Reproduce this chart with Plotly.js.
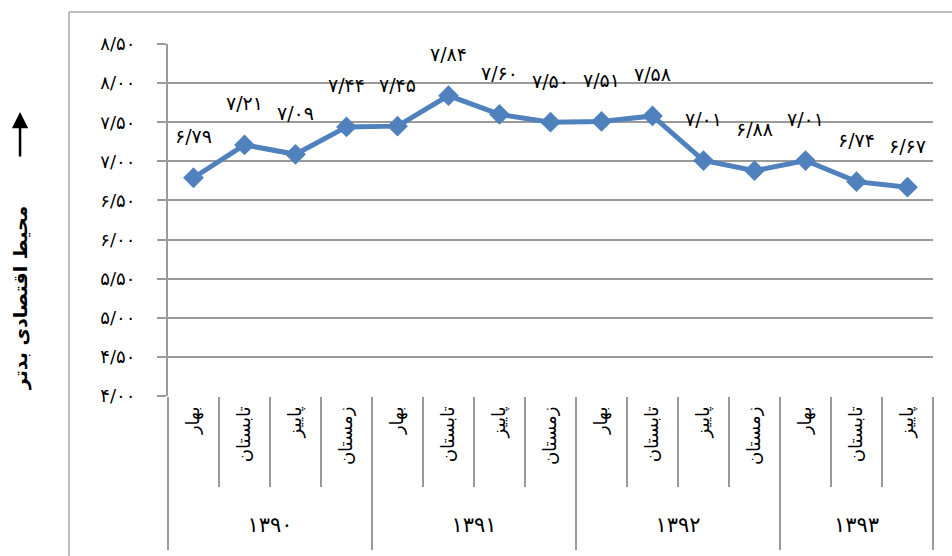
<!DOCTYPE html>
<html>
<head>
<meta charset="utf-8">
<script src="https://cdn.plot.ly/plotly-3.0.1.min.js"></script>
<style>html,body{margin:0;padding:0;background:#fff;}#chart{width:952px;height:556px;}</style>
</head>
<body>
<div id="chart"></div>
<script>
var years = ['۱۳۹۰','۱۳۹۰','۱۳۹۰','۱۳۹۰','۱۳۹۱','۱۳۹۱','۱۳۹۱','۱۳۹۱','۱۳۹۲','۱۳۹۲','۱۳۹۲','۱۳۹۲','۱۳۹۳','۱۳۹۳','۱۳۹۳'];
var seasons = ['بهار','تابستان','پاییز','زمستان','بهار','تابستان','پاییز','زمستان','بهار','تابستان','پاییز','زمستان','بهار','تابستان','پاییز'];
var values = [6.79, 7.21, 7.09, 7.44, 7.45, 7.84, 7.60, 7.50, 7.51, 7.58, 7.01, 6.88, 7.01, 6.74, 6.67];
var yTickVals = [4.0, 4.5, 5.0, 5.5, 6.0, 6.5, 7.0, 7.5, 8.0, 8.5];
var yTickText = ['۴/۰۰','۴/۵۰','۵/۰۰','۵/۵۰','۶/۰۰','۶/۵۰','۷/۰۰','۷/۵۰','۸/۰۰','۸/۵۰'];
var yTitle = 'محیط اقتصادی بدتر';

var faDigits = '۰۱۲۳۴۵۶۷۸۹';
function toFa(v){
  return v.toFixed(2).replace('.', '/').replace(/[0-9]/g, function(d){return faDigits[+d];});
}
var labels = values.map(toFa);

// positions derived from the category arrays
var idx = seasons.map(function(_, i){ return i; });
var catBounds = [-0.5].concat(idx.map(function(i){ return i + 0.5; }));
var groupNames = [], groupStart = [], groupEnd = [];
years.forEach(function(y, i){
  if (groupNames.length === 0 || groupNames[groupNames.length - 1] !== y) {
    groupNames.push(y); groupStart.push(i); groupEnd.push(i);
  } else {
    groupEnd[groupEnd.length - 1] = i;
  }
});
var groupCenters = groupStart.map(function(s, k){ return (s + groupEnd[k]) / 2; });
var groupBounds = [-0.5].concat(groupEnd.map(function(e){ return e + 0.5; }));

var font = 'DejaVu Sans, sans-serif';
var grey = '#9a9a9a';
var xRange = [-0.5, seasons.length - 0.5];

var traces = [
  {
    type: 'scatter', mode: 'lines+markers',
    x: idx, y: values,
    line: {color: '#4f81bd', width: 5},
    marker: {symbol: 'diamond', size: 16, color: '#4f81bd'},
    hoverinfo: 'skip', showlegend: false, cliponaxis: false
  },
  {
    type: 'scatter', mode: 'markers+text',
    x: idx, y: values,
    text: labels, textposition: 'top center',
    textfont: {family: font, size: 19, color: '#000'},
    marker: {size: 46, color: 'rgba(0,0,0,0)'},
    hoverinfo: 'skip', showlegend: false, cliponaxis: false
  },
  {
    type: 'scatter', mode: 'markers', xaxis: 'x2', yaxis: 'y',
    x: groupCenters, y: groupCenters.map(function(){ return null; }),
    hoverinfo: 'skip', showlegend: false
  }
];

var layout = {
  width: 952, height: 556,
  margin: {l: 168, r: 19, t: 44, b: 160},
  paper_bgcolor: '#fff', plot_bgcolor: '#fff',
  showlegend: false,
  xaxis: {
    range: xRange, automargin: false, fixedrange: true,
    tickmode: 'array', tickvals: idx, ticktext: seasons,
    tickangle: -90,
    tickfont: {family: font, size: 18, color: '#000'},
    ticks: '', ticklabelstandoff: 6,
    minor: {tickmode: 'array', tickvals: catBounds, ticks: 'outside', ticklen: 90, tickcolor: grey, tickwidth: 1.5, showgrid: false},
    showgrid: false, zeroline: false, showline: false
  },
  xaxis2: {
    range: xRange, overlaying: 'x', anchor: 'y', side: 'bottom', automargin: false,
    tickmode: 'array', tickvals: groupCenters, ticktext: groupNames,
    tickangle: 0,
    tickfont: {family: font, size: 21, color: '#000'},
    ticks: '', ticklabelstandoff: 114,
    minor: {tickmode: 'array', tickvals: groupBounds, ticks: 'outside', ticklen: 153, tickcolor: grey, tickwidth: 1.5, showgrid: false},
    showgrid: false, zeroline: false, showline: false
  },
  yaxis: {
    range: [4, 8.5], automargin: false, fixedrange: true,
    tickmode: 'array', tickvals: yTickVals, ticktext: yTickText,
    tickfont: {family: font, size: 18, color: '#000'},
    ticks: 'outside', ticklen: 9, tickcolor: grey, tickwidth: 2,
    ticklabelstandoff: 18,
    showgrid: true, gridcolor: grey, gridwidth: 2,
    showline: true, linecolor: grey, linewidth: 2,
    zeroline: false
  },
  shapes: [
    {type: 'line', xref: 'paper', yref: 'paper', x0: -0.1294, x1: 1.03, y0: 1.091, y1: 1.091, line: {color: '#a8a8a8', width: 1.5}},
    {type: 'line', xref: 'paper', yref: 'paper', x0: -0.1294, x1: -0.1294, y0: 1.091, y1: -0.455, line: {color: '#a8a8a8', width: 1.5}}
  ],
  annotations: [
    {xref: 'paper', yref: 'paper', x: -0.1934, y: 0.278, xanchor: 'center', yanchor: 'middle',
     text: '<b>' + yTitle + '</b>', textangle: -90,
     showarrow: false, font: {family: font, size: 19, color: '#000'}},
    {xref: 'paper', yref: 'paper', x: -0.1934, y: 0.807, ax: 0, ay: 46, text: '',
     showarrow: true, arrowhead: 2, arrowsize: 1.3, arrowwidth: 2.5, arrowcolor: '#000'}
  ]
};

Plotly.newPlot('chart', traces, layout, {staticPlot: true, displayModeBar: false});
</script>
</body>
</html>
